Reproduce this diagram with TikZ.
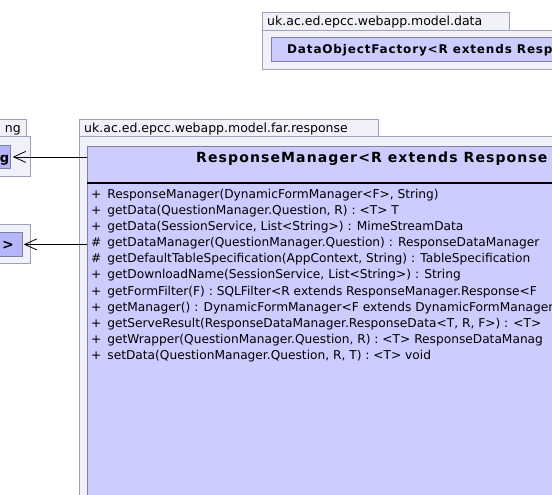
\documentclass[tikz,border=0pt]{standalone}
\usepackage{fontspec}
\setmainfont{DejaVu Sans}
\usetikzlibrary{arrows.meta,positioning}
\definecolor{pkgfill}{HTML}{F1F1FA}
\definecolor{pkgline}{HTML}{A0A0B8}
\definecolor{classfill}{HTML}{CCCCFF}
\definecolor{smallfill}{HTML}{B5B5FA}
\definecolor{classline}{HTML}{7F7FA8}
\newcommand{\vis}[1]{#1\hspace{6pt}}

\begin{document}
\begin{tikzpicture}[x=1pt, y=-1pt, >={Straight Barb[length=12pt,width=11pt]},
	pkgbox/.style={draw=pkgline, fill=pkgfill, line width=0.8pt},
	classbox/.style={draw=classline, fill=classfill, line width=0.8pt, inner sep=0pt, anchor=north west},
	pkglabel/.style={anchor=base west, inner sep=0pt, font=\fontsize{12.5}{14}\selectfont},
	classname/.style={anchor=base west, inner sep=0pt, font=\fontsize{14}{16}\selectfont\bfseries\addfontfeature{LetterSpace=8}},
	method/.style={anchor=base west, inner sep=0pt, font=\fontsize{12.2}{14}\selectfont}]
	\useasboundingbox (0,0) rectangle (552,495);
	\clip (0,0) rectangle (552,495);

	% package uk.ac.ed.epcc.webapp.model.data
	\draw [pkgbox] (262,12) rectangle (509,30);
	\draw [pkgbox] (262,30) rectangle (600,69);
	\node (datalbl) at (267,26) [pkglabel] {uk.ac.ed.epcc.webapp.model.data};
	\node (factory) at (271,37) [classbox, minimum width=340pt, minimum height=24pt] {};
	\node (factoryname) at (287,54) [classname, font=\fontsize{12}{14}\selectfont\bfseries\addfontfeature{LetterSpace=7}] {DataObjectFactory<R extends Resp};

	% packages on the left
	\draw [pkgbox] (-10,119) rectangle (26,136);
	\draw [pkgbox] (-10,136) rectangle (30,176);
	\node (leftlbl) at (21,132) [pkglabel, anchor=base east] {ng};
	\node (gcls) at (-40,145) [classbox, fill=smallfill, minimum width=50pt, minimum height=23pt] {};
	\node (gname) at (9.5,162) [classname, anchor=base east, font=\fontsize{13}{15}\selectfont\bfseries] {g};

	\draw [pkgbox] (-10,224) rectangle (30,263);
	\node (rcls) at (-40,232) [classbox, fill=smallfill, minimum width=62pt, minimum height=24pt] {};
	\node (rname) at (14,249) [classname, anchor=base east] {>};

	% package uk.ac.ed.epcc.webapp.model.far.response
	\draw [pkgbox] (79,119) rectangle (378,136);
	\draw [pkgbox] (79,136) rectangle (600,520);
	\node (farlbl) at (84,132) [pkglabel] {uk.ac.ed.epcc.webapp.model.far.response};
	\node (manager) at (87,146) [classbox, minimum width=520pt, minimum height=380pt] {};
	\node (managername) at (196,162) [classname] {ResponseManager<R extends Response};
	\draw [black, line width = 2pt] (87,183) -- (607,183);

	\node (m1) at (91,198) [method] {\vis{+}ResponseManager(DynamicFormManager<F>, String)};
	\node (m2) at (91,214) [method] {\vis{+}getData(QuestionManager.Question, R) : <T> T};
	\node (m3) at (91,230) [method] {\vis{+}getData(SessionService, List<String>) : MimeStreamData};
	\node (m4) at (91,246) [method] {\vis{\#}getDataManager(QuestionManager.Question) : ResponseDataManager};
	\node (m5) at (91,262) [method] {\vis{\#}getDefaultTableSpecification(AppContext, String) : TableSpecification};
	\node (m6) at (91,278) [method] {\vis{+}getDownloadName(SessionService, List<String>) : String};
	\node (m7) at (91,295) [method] {\vis{+}getFormFilter(F) : SQLFilter<R extends ResponseManager.Response<F};
	\node (m8) at (91,311) [method] {\vis{+}getManager() : DynamicFormManager<F extends DynamicFormManager};
	\node (m9) at (91,327) [method] {\vis{+}getServeResult(ResponseDataManager.ResponseData<T, R, F>) : <T>};
	\node (m10) at (91,343) [method] {\vis{+}getWrapper(QuestionManager.Question, R) : <T> ResponseDataManag};
	\node (m11) at (91,359) [method] {\vis{+}setData(QuestionManager.Question, R, T) : <T> void};

	\draw [line width = 0.8pt, ->] (manager.west |- gcls.east) -- ([xshift=2pt]gcls.east);
	\draw [line width = 0.8pt, ->] (manager.west |- rcls.east) -- ([xshift=1pt]rcls.east);
\end{tikzpicture}
\end{document}
